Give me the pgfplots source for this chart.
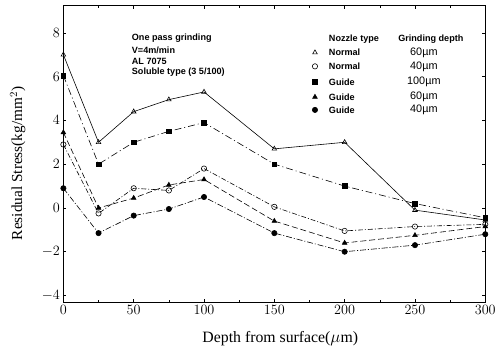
\documentclass[border=0pt]{standalone}
\usepackage{pgfplots}
\pgfplotsset{compat=1.18}
\usepackage{fontspec}
\setmainfont{Liberation Serif}
\newfontfamily\annfont{Liberation Sans}
\begin{document}
\begin{tikzpicture}
\begin{axis}[
  at={(0,0)}, anchor=south west,
  scale only axis, width=426bp, height=299bp,
  xmin=0, xmax=300, ymin=-4.3, ymax=9.23,
  xtick={0,50,100,150,200,250,300},
  ytick={-4,-2,0,2,4,6,8},
  minor xtick={25,75,125,175,225,275},
  tick align=inside, major tick length=3bp, minor tick length=2bp,
  axis line style={line width=1.1pt},
  tick style={black, line width=0.6pt},
  ticklabel style={font=\fontsize{15}{17}\selectfont},
  clip=false,
  every axis plot/.append style={black, line width=0.6pt, mark size=2.7pt},
]
% Normal 60um
\addplot[solid, mark=triangle, mark options={solid,fill=white}] coordinates
 {(0,7.0)(25,3.0)(50,4.4)(75,4.95)(100,5.3)(150,2.7)(200,3.0)(250,-0.1)(300,-0.55)};
% Normal 40um
\addplot[dash pattern=on 5pt off 2pt on 1pt off 2pt, mark=o, mark options={solid,fill=white}] coordinates
 {(0,2.9)(25,-0.25)(50,0.9)(75,0.8)(100,1.8)(150,0.05)(200,-1.05)(250,-0.85)(300,-0.75)};
% Guide 100um
\addplot[dash pattern=on 7pt off 3pt on 1pt off 3pt, mark=square*, mark size=2.4pt, mark options={solid}] coordinates
 {(0,6.05)(25,2.0)(50,3.0)(75,3.5)(100,3.9)(150,2.0)(200,1.0)(250,0.2)(300,-0.45)};
% Guide 60um
\addplot[dash pattern=on 6pt off 3pt, mark=triangle*, mark options={solid}] coordinates
 {(0,3.45)(25,0.0)(50,0.45)(75,1.05)(100,1.3)(150,-0.6)(200,-1.6)(250,-1.25)(300,-0.85)};
% Guide 40um
\addplot[dash pattern=on 6pt off 2pt on 1pt off 2pt, mark=*, mark options={solid}] coordinates
 {(0,0.9)(25,-1.15)(50,-0.35)(75,-0.05)(100,0.5)(150,-1.15)(200,-2.0)(250,-1.7)(300,-1.2)};
% legend markers
\addplot[only marks, mark=triangle, mark options={fill=white}] coordinates {(178.9,7.10)};
\addplot[only marks, mark=o, mark options={fill=white}] coordinates {(178.9,6.47)};
\addplot[only marks, mark=square*, mark size=2.4pt] coordinates {(178.9,5.75)};
\addplot[only marks, mark=triangle*] coordinates {(178.9,5.07)};
\addplot[only marks, mark=*] coordinates {(178.9,4.48)};
\end{axis}
% annotations (tikz coords: x = px-64, y = 305-py)
\begin{scope}[every node/.style={inner sep=0pt, font=\annfont\bfseries\fontsize{9.2}{10.5}\selectfont}]
\node[anchor=west] at (69bp,266bp) {One pass grinding};
\node[anchor=west] at (69bp,254bp) {V=4m/min};
\node[anchor=west] at (69bp,243bp) {AL 7075};
\node[anchor=west] at (69bp,232bp) {Soluble type (3 5/100)};
\node[anchor=west] at (268bp,265bp) {Nozzle type};
\node[anchor=west] at (338bp,265bp) {Grinding depth};
\node[anchor=west] at (268bp,252bp) {Normal};
\node[anchor=west] at (268bp,238bp) {Normal};
\node[anchor=west] at (268bp,222bp) {Guide};
\node[anchor=west] at (268bp,207bp) {Guide};
\node[anchor=west] at (268bp,194bp) {Guide};
\end{scope}
\begin{scope}[every node/.style={inner sep=0pt, font=\annfont\fontsize{11}{13}\selectfont}]
\node at (364bp,252bp) {60µm};
\node at (364bp,238bp) {40µm};
\node at (364bp,222bp) {100µm};
\node at (364bp,207bp) {60µm};
\node at (364bp,194bp) {40µm};
\end{scope}
\node[font=\fontsize{16}{18}\selectfont] at (219bp,-37bp) {Depth from surface($\mu$m)};
\node[font=\fontsize{15.5}{18}\selectfont, rotate=90] at (-46bp,140bp) {Residual Stress(kg/mm$^2$)};
\path[use as bounding box] (-64bp,-50bp) rectangle (435bp,305bp);
\end{tikzpicture}
\end{document}
